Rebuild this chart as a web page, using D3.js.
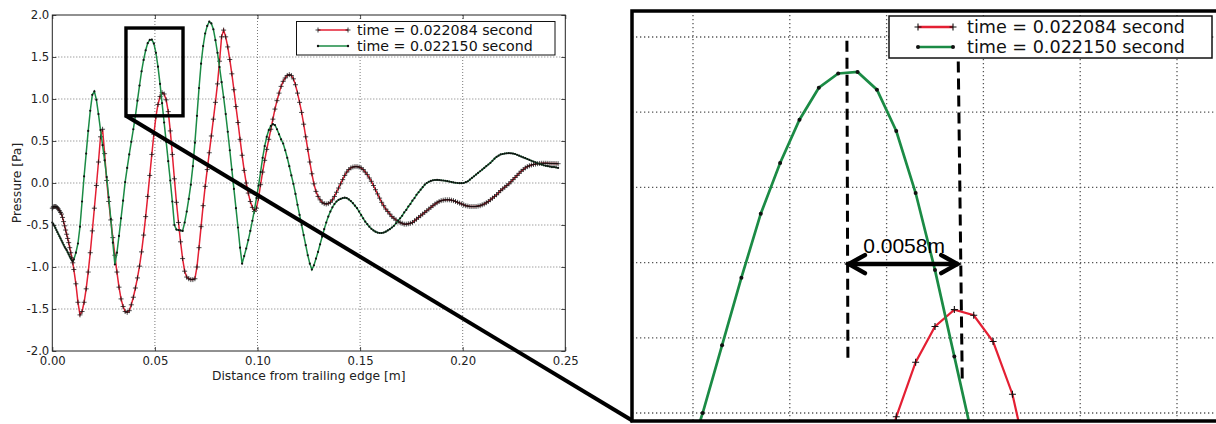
<!DOCTYPE html>
<html><head><meta charset="utf-8">
<script src="https://cdn.jsdelivr.net/npm/d3@7"></script>
<style>body{margin:0;background:#fff;}svg{display:block;font-family:"DejaVu Sans",sans-serif;}</style>
</head><body><svg id="c" width="1216" height="424"></svg>
<script>
// ---------------- data ----------------
const xs = [
0,0.0005,0.001,0.0015,0.002,0.0025,0.003,0.0035,0.004,0.0045,
0.005,0.0055,0.006,0.0065,0.007,0.0075,0.008,0.0085,0.009,0.0095,
0.01,0.0105,
0.0115,0.0125,0.0135,0.0145,0.0155,0.0165,0.0175,0.0185,0.0195,
0.0205,0.0215,0.0225,0.0235,0.0245,0.0255,0.0265,0.0275,0.0285,0.0295,
0.0305,0.0315,0.0325,0.0335,0.0345,0.0355,0.0365,0.0375,0.0385,0.0395,
0.0405,0.0415,0.0425,0.0435,0.0445,0.0455,0.0465,0.0475,0.0485,0.0495,
0.0505,0.0515,0.0525,0.0535,0.0545,0.0555,0.0565,0.0575,0.0585,0.0595,
0.0605,0.0615,0.0625,0.0635,0.0645,0.0655,0.0665,0.0675,0.0685,0.0695,
0.0705,0.0715,0.0725,0.0735,0.0745,0.0755,0.0765,0.0775,0.0785,0.0795,
0.0805,0.0815,0.0825,0.0835,0.0845,0.0855,0.0865,0.0875,0.0885,0.0895,
0.0905,0.0915,0.0925,0.0935,0.0945,0.0955,0.0965,0.0975,0.0985,0.0995,
0.1005,0.1015,0.1025,0.1035,0.1045,0.1055,0.1065,0.1075,0.1085,0.1095,
0.1105,0.1115,0.1125,0.1135,0.1145,0.1155,0.1165,0.1175,0.1185,0.1195,
0.1205,0.1215,0.1225,0.1235,0.1245,0.1255,0.1265,0.1275,0.1285,0.1295,
0.1305,0.1315,0.1325,0.1335,0.1345,0.1355,0.1365,0.1375,0.1385,0.1395,
0.1405,0.1415,0.1425,0.1435,0.1445,0.1455,0.1465,0.1475,0.1485,0.1495,
0.1505,0.1515,0.1525,0.1535,0.1545,0.1555,0.1565,0.1575,0.1585,0.1595,
0.1605,0.1615,0.1625,0.1635,0.1645,0.1655,0.1665,0.1675,0.1685,0.1695,
0.1705,0.1715,0.1725,0.1735,0.1745,0.1755,0.1765,0.1775,0.1785,0.1795,
0.1805,0.1815,0.1825,0.1835,0.1845,0.1855,0.1865,0.1875,0.1885,0.1895,
0.1905,0.1915,0.1925,0.1935,0.1945,0.1955,0.1965,0.1975,0.1985,0.1995,
0.2005,0.2015,0.2025,0.2035,0.2045,0.2055,0.2065,0.2075,0.2085,0.2095,
0.2105,0.2115,0.2125,0.2135,0.2145,0.2155,0.2165,0.2175,0.2185,0.2195,
0.2205,0.2215,0.2225,0.2235,0.2245,0.2255,0.2265,0.2275,0.2285,0.2295,
0.2305,0.2315,0.2325,0.2335,0.2345,0.2355,0.2365,0.2375,0.2385,0.2395,
0.2405,0.2415,0.2425,0.2435,0.2445,0.2455,0.2465];

// time = 0.022084 second (red, "+" markers)
const pressureA = [
-0.30,-0.285,-0.28,-0.28,-0.285,-0.295,-0.31,-0.33,-0.35,-0.37,
-0.41,-0.46,-0.51,-0.56,-0.61,-0.66,-0.71,-0.77,-0.83,-0.89,
-0.95,-1.03,
-1.20,-1.42,-1.57,-1.53,-1.42,-1.26,-1.06,-0.83,-0.57,
-0.30,-0.03,0.25,0.55,0.64,0.35,0.03,-0.22,-0.44,-0.65,
-0.86,-1.06,-1.24,-1.38,-1.47,-1.53,-1.54,-1.52,-1.45,-1.36,
-1.25,-1.13,-0.99,-0.82,-0.62,-0.40,-0.16,0.09,0.34,0.58,
0.79,0.935,1.03,1.075,1.06,0.99,0.85,0.62,0.34,0.05,
-0.23,-0.47,-0.70,-0.90,-1.05,-1.12,-1.14,-1.15,-1.15,-1.14,
-1.00,-0.77,-0.52,-0.27,-0.04,0.16,0.36,0.56,0.76,0.96,
1.18,1.45,1.74,1.82,1.74,1.62,1.47,1.30,1.11,0.91,
0.72,0.52,0.33,0.15,0.00,-0.12,-0.22,-0.29,-0.34,-0.30,
-0.18,-0.02,0.13,0.27,0.40,0.52,0.64,0.76,0.88,0.98,
1.07,1.15,1.21,1.25,1.28,1.29,1.28,1.24,1.17,1.07,
0.96,0.84,0.70,0.55,0.40,0.25,0.11,-0.01,-0.10,-0.16,
-0.20,-0.23,-0.245,-0.25,-0.245,-0.23,-0.20,-0.16,-0.11,-0.06,
-0.01,0.04,0.09,0.13,0.16,0.18,0.19,0.195,0.195,0.19,
0.18,0.16,0.13,0.10,0.06,0.02,-0.03,-0.08,-0.13,-0.18,
-0.23,-0.27,-0.31,-0.34,-0.37,-0.40,-0.42,-0.44,-0.46,-0.47,
-0.48,-0.49,-0.49,-0.485,-0.48,-0.47,-0.45,-0.43,-0.41,-0.39,
-0.37,-0.35,-0.33,-0.31,-0.29,-0.27,-0.25,-0.235,-0.22,-0.21,
-0.205,-0.20,-0.20,-0.20,-0.205,-0.21,-0.22,-0.23,-0.24,-0.25,
-0.26,-0.27,-0.275,-0.28,-0.28,-0.28,-0.28,-0.275,-0.27,-0.26,
-0.25,-0.235,-0.22,-0.20,-0.18,-0.16,-0.14,-0.115,-0.09,-0.07,
-0.05,-0.03,-0.01,0.015,0.04,0.065,0.09,0.115,0.14,0.16,
0.18,0.195,0.205,0.215,0.22,0.225,0.23,0.233,0.235,0.235,
0.235,0.234,0.233,0.232,0.232,0.231,0.23];

// time = 0.022150 second (green, "." markers)
const pressureB = [
-0.47,-0.49,-0.51,-0.535,-0.56,-0.585,-0.61,-0.635,-0.66,-0.685,
-0.71,-0.735,-0.76,-0.78,-0.80,-0.825,-0.85,-0.875,-0.90,-0.92,
-0.93,-0.91,
-0.83,-0.72,-0.52,-0.22,0.08,0.35,0.62,0.86,1.05,
1.09,0.99,0.82,0.63,0.45,0.27,0.07,-0.17,-0.43,-0.71,
-0.97,-0.83,-0.63,-0.42,-0.21,0.01,0.18,0.34,0.49,0.64,
0.80,0.98,1.16,1.33,1.465,1.58,1.665,1.703,1.707,1.66,
1.55,1.385,1.18,0.95,0.72,0.49,0.26,0.03,-0.22,-0.50,
-0.555,-0.56,-0.565,-0.57,-0.47,-0.34,-0.19,-0.02,0.20,0.48,
0.80,1.13,1.42,1.63,1.78,1.87,1.92,1.90,1.83,1.70,
1.55,1.38,1.20,1.02,0.82,0.61,0.39,0.16,-0.07,-0.30,
-0.53,-0.77,-0.96,-0.87,-0.78,-0.68,-0.57,-0.45,-0.32,-0.18,
-0.03,0.13,0.30,0.44,0.55,0.63,0.68,0.70,0.69,0.64,
0.58,0.52,0.47,0.39,0.30,0.20,0.09,-0.01,-0.13,-0.26,
-0.38,-0.50,-0.62,-0.74,-0.86,-0.96,-1.03,-0.98,-0.90,-0.82,
-0.73,-0.64,-0.55,-0.47,-0.40,-0.34,-0.29,-0.25,-0.22,-0.20,
-0.19,-0.18,-0.175,-0.18,-0.195,-0.215,-0.24,-0.27,-0.30,-0.34,
-0.38,-0.42,-0.46,-0.49,-0.52,-0.545,-0.565,-0.58,-0.59,-0.595,
-0.595,-0.59,-0.58,-0.565,-0.55,-0.53,-0.51,-0.48,-0.45,-0.42,
-0.39,-0.35,-0.32,-0.28,-0.25,-0.21,-0.18,-0.14,-0.11,-0.08,
-0.05,-0.02,0.00,0.015,0.025,0.032,0.036,0.037,0.035,0.032,
0.03,0.027,0.022,0.017,0.012,0.007,0.003,0.0,-0.002,-0.002,
0.0,0.01,0.02,0.04,0.06,0.08,0.10,0.12,0.14,0.16,
0.18,0.20,0.22,0.24,0.265,0.29,0.31,0.325,0.34,0.345,
0.35,0.353,0.355,0.353,0.35,0.345,0.335,0.325,0.315,0.305,
0.295,0.285,0.275,0.265,0.255,0.245,0.235,0.225,0.22,0.21,
0.205,0.20,0.195,0.19,0.19,0.185,0.18];

const seriesNames = ["time = 0.022084 second", "time = 0.022150 second"];
const xTicks = [0, 0.05, 0.10, 0.15, 0.20, 0.25];
const xTickLabels = ["0.00", "0.05", "0.10", "0.15", "0.20", "0.25"];
const yTicks = [-2, -1.5, -1, -0.5, 0, 0.5, 1, 1.5, 2];
const yTickLabels = ["-2.0", "-1.5", "-1.0", "-0.5", "0.0", "0.5", "1.0", "1.5", "2.0"];
const xLabel = "Distance from trailing edge [m]";
const yLabel = "Pressure [Pa]";
const zoomBoxX = [0.0359, 0.0637];
const zoomBoxY = [0.80, 1.845];
const panelXTicks = [0.040, 0.045, 0.050, 0.055, 0.060, 0.065];
const panelYTicks = [0.8, 1.0, 1.2, 1.4, 1.6, 1.8];
const peakBX = 0.04795, peakAX = 0.05365;   // peaks of the two curves
const shiftLabel = "0.0058m";

if (xs.length !== pressureA.length || xs.length !== pressureB.length)
  console.error("length mismatch", xs.length, pressureA.length, pressureB.length);

// ---------------- drawing ----------------
const RED = "#e41f33", GREEN = "#1b8b45";
const svg = d3.select("#c");
const defs = svg.append("defs");

const lineGen = (sx, sy) => d3.line().x((d, i) => sx(xs[i])).y(d => sy(d));
const plusPath = (sx, sy, vals, s) => vals.map((v, i) => {
  const X = sx(xs[i]), Y = sy(v);
  return `M${X - s},${Y}h${2 * s}M${X},${Y - s}v${2 * s}`;
}).join("");

// ===== main chart =====
const M = {l: 52.3, r: 565.3, t: 15, b: 351};
const x = d3.scaleLinear().domain([0, 0.25]).range([M.l, M.r]);
const y = d3.scaleLinear().domain([-2, 2]).range([M.b, M.t]);
const main = svg.append("g");

// grid
main.append("g").selectAll("line").data(xTicks.slice(1, -1)).join("line")
  .attr("x1", d => x(d)).attr("x2", d => x(d)).attr("y1", M.t).attr("y2", M.b)
  .attr("stroke", "#555").attr("stroke-width", 0.8).attr("stroke-dasharray", "1,2");
main.append("g").selectAll("line").data(yTicks.slice(1, -1)).join("line")
  .attr("y1", d => y(d)).attr("y2", d => y(d)).attr("x1", M.l).attr("x2", M.r)
  .attr("stroke", "#555").attr("stroke-width", 0.8).attr("stroke-dasharray", "1,2");

// series
main.append("path").attr("d", lineGen(x, y)(pressureA)).attr("fill", "none")
  .attr("stroke", RED).attr("stroke-width", 1.5);
main.append("path").attr("d", plusPath(x, y, pressureA, 2.5)).attr("fill", "none")
  .attr("stroke", "#111").attr("stroke-width", 0.75);
main.append("path").attr("d", lineGen(x, y)(pressureB)).attr("fill", "none")
  .attr("stroke", GREEN).attr("stroke-width", 1.5);
main.append("g").selectAll("circle").data(pressureB).join("circle")
  .attr("cx", (d, i) => x(xs[i])).attr("cy", d => y(d)).attr("r", 1.1).attr("fill", "#111");

// axes
function styleAxis(g, labels) {
  g.select(".domain").remove();
  g.selectAll(".tick line").attr("stroke", "#222").attr("stroke-width", 0.8);
  g.selectAll(".tick text").attr("fill", "#222")
    .style("font-family", '"DejaVu Sans", sans-serif').style("font-size", labels ? "11.7px" : "0px");
}
main.append("g").attr("transform", `translate(0,${M.b})`)
  .call(d3.axisBottom(x).tickValues(xTicks).tickFormat((d, i) => xTickLabels[i]).tickSizeInner(-4).tickSizeOuter(0).tickPadding(6))
  .call(g => styleAxis(g, true));
main.append("g").attr("transform", `translate(${M.l},0)`)
  .call(d3.axisLeft(y).tickValues(yTicks).tickFormat((d, i) => yTickLabels[i]).tickSizeInner(-4).tickSizeOuter(0).tickPadding(3))
  .call(g => styleAxis(g, true));
main.append("g").attr("transform", `translate(0,${M.t})`)
  .call(d3.axisTop(x).tickValues(xTicks).tickFormat("").tickSizeInner(-4).tickSizeOuter(0))
  .call(g => styleAxis(g, false));
main.append("g").attr("transform", `translate(${M.r},0)`)
  .call(d3.axisRight(y).tickValues(yTicks).tickFormat("").tickSizeInner(-4).tickSizeOuter(0))
  .call(g => styleAxis(g, false));
main.append("rect").attr("x", M.l).attr("y", M.t).attr("width", M.r - M.l).attr("height", M.b - M.t)
  .attr("fill", "none").attr("stroke", "#222").attr("stroke-width", 1);

main.append("text").attr("x", (M.l + M.r) / 2).attr("y", 380).attr("text-anchor", "middle")
  .attr("font-size", "12.3px").attr("fill", "#222").text(xLabel);
main.append("text").attr("transform", `translate(21,${(M.t + M.b) / 2}) rotate(-90)`).attr("text-anchor", "middle")
  .attr("font-size", "12.3px").attr("fill", "#222").text(yLabel);

// legend (main)
function legend(g, o) {
  g.append("rect").attr("x", o.x).attr("y", o.y).attr("width", o.w).attr("height", o.h)
    .attr("fill", "#fff").attr("stroke", "#111").attr("stroke-width", o.bw);
  const rows = [{c: RED, m: "plus"}, {c: GREEN, m: "dot"}];
  rows.forEach((r, i) => {
    const yy = o.rows[i];
    g.append("line").attr("x1", o.l1).attr("x2", o.l2).attr("y1", yy).attr("y2", yy)
      .attr("stroke", r.c).attr("stroke-width", o.lw);
    [o.l1, o.l2].forEach(xx => {
      if (r.m === "plus")
        g.append("path").attr("d", `M${xx - o.ms},${yy}h${2 * o.ms}M${xx},${yy - o.ms}v${2 * o.ms}`)
          .attr("stroke", "#111").attr("stroke-width", o.mw);
      else
        g.append("circle").attr("cx", xx).attr("cy", yy).attr("r", o.dr).attr("fill", "#111");
    });
    g.append("text").attr("x", o.tx).attr("y", yy).attr("dy", "0.36em")
      .attr("font-size", o.fs).attr("fill", "#111").text(seriesNames[i]);
  });
}
legend(main.append("g"), {x: 296.5, y: 21.5, w: 258.5, h: 33.5, bw: 1, rows: [30, 46],
  l1: 318, l2: 348, lw: 1.5, ms: 2.5, mw: 0.8, dr: 1.2, tx: 357, fs: "14.2px"});

// ===== zoom panel =====
const P = {l: 632, t: 11, r: 1236, b: 421};
const px = d3.scaleLinear().domain([0.040, 0.065]).range([693, 1177]);
const py = d3.scaleLinear().domain([0.8, 1.8]).range([413, 37]);

// zoom box and connector
main.append("rect").attr("x", x(zoomBoxX[0])).attr("y", y(zoomBoxY[1]))
  .attr("width", x(zoomBoxX[1]) - x(zoomBoxX[0])).attr("height", y(zoomBoxY[0]) - y(zoomBoxY[1]))
  .attr("fill", "none").attr("stroke", "#000").attr("stroke-width", 3.4);
svg.append("line").attr("x1", x(zoomBoxX[0])).attr("y1", y(zoomBoxY[0])).attr("x2", P.l + 1).attr("y2", P.b)
  .attr("stroke", "#000").attr("stroke-width", 4);

const panel = svg.append("g");
defs.append("clipPath").attr("id", "pclip").append("rect")
  .attr("x", P.l).attr("y", P.t).attr("width", P.r - P.l).attr("height", P.b - P.t);
panel.append("rect").attr("x", P.l).attr("y", P.t).attr("width", P.r - P.l).attr("height", P.b - P.t).attr("fill", "#fff");
const pc = panel.append("g").attr("clip-path", "url(#pclip)");
pc.append("g").selectAll("line").data(panelXTicks).join("line")
  .attr("x1", d => px(d)).attr("x2", d => px(d)).attr("y1", P.t).attr("y2", P.b)
  .attr("stroke", "#555").attr("stroke-width", 1.3).attr("stroke-dasharray", "1.3,2.7");
pc.append("g").selectAll("line").data(panelYTicks).join("line")
  .attr("y1", d => py(d)).attr("y2", d => py(d)).attr("x1", P.l).attr("x2", P.r)
  .attr("stroke", "#555").attr("stroke-width", 1.3).attr("stroke-dasharray", "1.3,2.7");

pc.append("path").attr("d", lineGen(px, py)(pressureA)).attr("fill", "none")
  .attr("stroke", RED).attr("stroke-width", 2.2);
pc.append("path").attr("d", plusPath(px, py, pressureA, 3.5)).attr("fill", "none")
  .attr("stroke", "#111").attr("stroke-width", 1.1);
pc.append("path").attr("d", lineGen(px, py)(pressureB)).attr("fill", "none")
  .attr("stroke", GREEN).attr("stroke-width", 2.7);
pc.append("g").selectAll("circle").data(pressureB).join("circle")
  .attr("cx", (d, i) => px(xs[i])).attr("cy", d => py(d)).attr("r", 2).attr("fill", "#111");

// dashed markers at peaks
pc.append("line").attr("x1", px(peakBX)).attr("x2", px(peakBX) + 1).attr("y1", py(1.79)).attr("y2", py(0.94))
  .attr("stroke", "#000").attr("stroke-width", 3).attr("stroke-dasharray", "11,6");
pc.append("line").attr("x1", px(peakAX) + 1).attr("x2", px(peakAX) + 5).attr("y1", py(1.735)).attr("y2", py(0.885))
  .attr("stroke", "#000").attr("stroke-width", 3).attr("stroke-dasharray", "11,6");
// double arrow
const ay = py(1.196), ax1 = px(peakBX) + 1, ax2 = px(peakAX) + 1;
pc.append("path").attr("d", `M${ax1},${ay}H${ax2}`).attr("stroke", "#000").attr("stroke-width", 4.5).attr("fill", "none");
pc.append("path").attr("d", `M${ax1 + 17},${ay - 9}L${ax1 + 1},${ay}L${ax1 + 17},${ay + 9}M${ax2 - 17},${ay - 9}L${ax2 - 1},${ay}L${ax2 - 17},${ay + 9}`)
  .attr("stroke", "#000").attr("stroke-width", 4.5).attr("fill", "none").attr("stroke-linecap", "round");
pc.append("text").attr("x", (ax1 + ax2) / 2 + 1).attr("y", py(1.225)).attr("text-anchor", "middle")
  .style("font-family", '"Liberation Sans", Arial, sans-serif').attr("font-size", "21px").attr("fill", "#000")
  .text(shiftLabel);

legend(panel.append("g"), {x: 889, y: 16, w: 323, h: 42, bw: 1.5, rows: [27, 47],
  l1: 918, l2: 953, lw: 2.6, ms: 3.5, mw: 1.1, dr: 2, tx: 967, fs: "17.6px"});

panel.append("rect").attr("x", P.l).attr("y", P.t).attr("width", P.r - P.l).attr("height", P.b - P.t)
  .attr("fill", "none").attr("stroke", "#000").attr("stroke-width", 3.5);
</script></body></html>
